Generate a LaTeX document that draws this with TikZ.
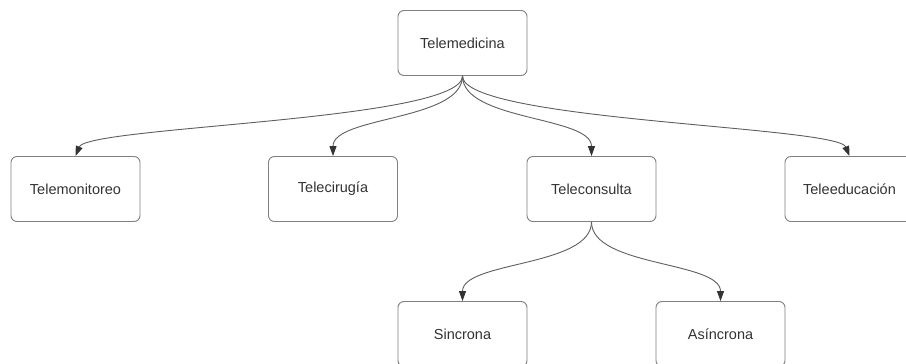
\documentclass[tikz,border=0pt]{standalone}
\usepackage{fontspec}
\setmainfont{Liberation Sans}
\usetikzlibrary{arrows.meta}
\definecolor{boxline}{HTML}{808080}
\definecolor{connline}{HTML}{5E5E5E}
\definecolor{tipcol}{HTML}{333333}
\definecolor{txt}{HTML}{333333}
\begin{document}
\begin{tikzpicture}[x=1pt,y=-1pt,
  box/.style={draw=boxline, line width=0.9pt, rounded corners=6pt, fill=white,
    minimum width=129pt, minimum height=65pt, inner sep=0pt,
    font=\fontsize{14.5}{17}\selectfont, text=txt},
  conn/.style={draw=connline, line width=0.9pt,
    -{Triangle[length=10pt,width=7pt,color=tipcol,fill=tipcol]}}]
\useasboundingbox (0,0) rectangle (906,364);
\clip (0,0) rectangle (906,364);
\node[box] (med) at (462.5,43) {Telemedicina};
\node[box] (mon) at (75.5,189) {Telemonitoreo};
\node[box] (cir) at (333,189) {Telecirugía};
\node[box] (con) at (591.5,189) {Teleconsulta};
\node[box] (edu) at (849.5,189) {Teleeducación};
\node[box] (sin) at (462.5,334) {Sincrona};
\node[box] (asi) at (720.5,334) {Asíncrona};
\draw[conn] (med.south) .. controls +(0,45) and +(12,-30) .. (mon.north);
\draw[conn] (med.south) .. controls +(0,45) and +(0,-40) .. (cir.north);
\draw[conn] (med.south) .. controls +(0,45) and +(0,-40) .. (con.north);
\draw[conn] (med.south) .. controls +(0,45) and +(-12,-30) .. (edu.north);
\draw[conn] (con.south) .. controls +(0,45) and +(0,-40) .. (sin.north);
\draw[conn] (con.south) .. controls +(0,45) and +(0,-40) .. (asi.north);
\end{tikzpicture}
\end{document}
